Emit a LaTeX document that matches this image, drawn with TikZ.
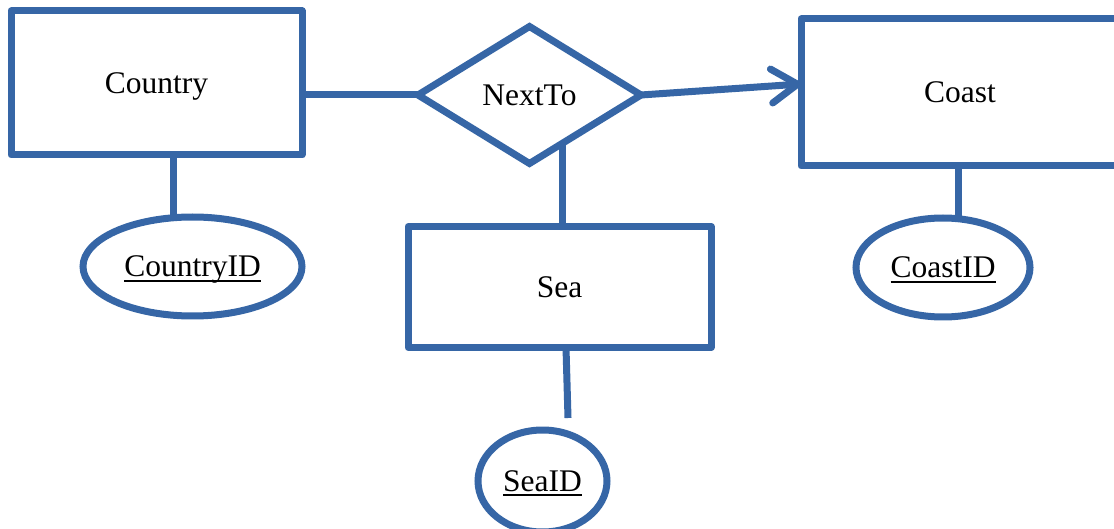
\documentclass[tikz,border=0pt]{standalone}
\usepackage{fontspec}
\setmainfont{Liberation Serif}
\usetikzlibrary{shapes.geometric,arrows.meta,calc}
\definecolor{erblue}{RGB}{54,102,166}
\newcommand\keyul[1]{\setbox0\hbox{#1}\rlap{\rule[-4.8pt]{\wd0}{2.2pt}}\box0}
\begin{document}
\begin{tikzpicture}[x=1pt,y=-1pt,
  every node/.style={font=\fontsize{31.5}{36}\selectfont, text height=21pt, text depth=0pt, inner sep=0pt, outer sep=0pt},
  entity/.style={draw=erblue, line width=7pt, line join=round, rectangle},
  attr/.style={draw=erblue, line width=7pt, ellipse},
  rel/.style={draw=erblue, line width=7pt, diamond, line join=miter},
  conn/.style={draw=erblue, line width=7pt},
]
\clip (0,0) rectangle (1114,529);
\fill[white] (0,0) rectangle (1114,529);
\node[entity, minimum width=291pt, minimum height=144pt] (country) at (156.5,83) {Country};
\node[rel, minimum width=223pt, minimum height=137pt, aspect=1.63] (nt) at (529.5,95) {NextTo};
\node[entity, minimum width=318pt, minimum height=147pt] (coast) at (960,92.5) {Coast};
\node[entity, minimum width=303pt, minimum height=121pt] (sea) at (559.5,287) {Sea};
\node[attr, minimum width=219pt, minimum height=99pt] (cid) at (192.5,266.5) {\keyul{CountryID}};
\node[attr, minimum width=174pt, minimum height=99pt] (coid) at (943,267.5) {\keyul{CoastID}};
\node[attr, minimum width=129pt, minimum height=102pt] (sid) at (542.5,481) {\keyul{SeaID}};
\coordinate (seaend) at (568,418);
\coordinate (ntlow) at ($(nt.south)!0.3!(nt.east)$);

\draw[conn] (nt.west) -- (country.east |- nt.west);
\draw[conn, -{Straight Barb[length=26pt, width=34pt, line cap=round, line join=round]}] (nt.east) -- ([yshift=8.5pt]coast.west);
\draw[conn] (ntlow) -- (ntlow |- sea.north);
\draw[conn] ([xshift=16.5pt]country.south) -- ([xshift=16.5pt]country.south |- cid.north);
\draw[conn] ([xshift=-2pt]coast.south) -- ([xshift=-2pt]coast.south |- coid.north);
\draw[conn] ([xshift=6.5pt]sea.south) -- (seaend);
\end{tikzpicture}
\end{document}
